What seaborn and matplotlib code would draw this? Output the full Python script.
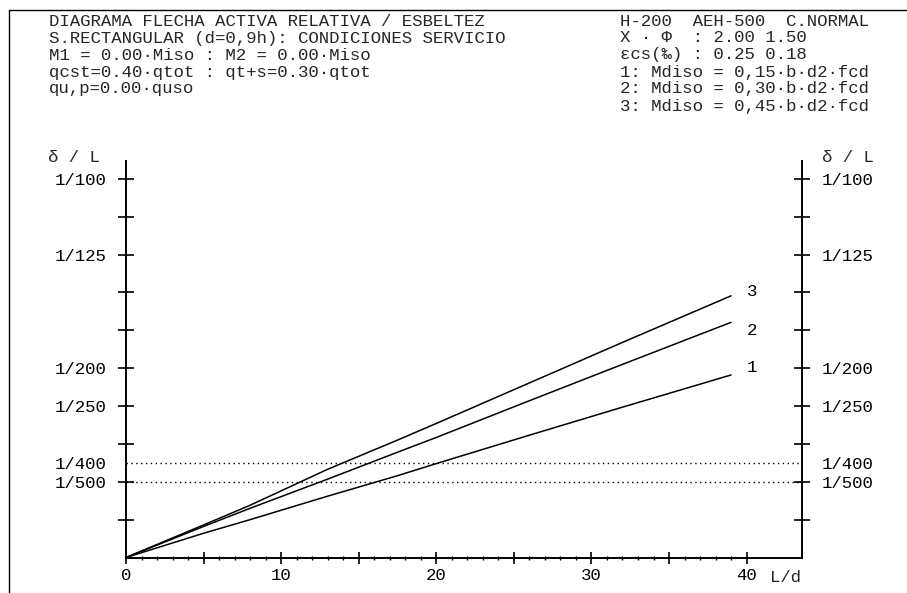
import matplotlib
matplotlib.use("Agg")
import matplotlib.pyplot as plt
import seaborn as sns
import pandas as pd
from matplotlib.lines import Line2D

# ---------------- data ----------------
slenderness = [0, 5, 8, 13, 17.5, 20, 26, 32, 39]          # L/d
curve_1 = [0, 0.64, 1.00, 1.62, 2.16, 2.48, 3.23, 3.97, 4.82]  # δ/L x 1000
curve_2 = [0, 0.82, 1.30, 2.07, 2.78, 3.17, 4.14, 5.10, 6.21]
curve_3 = [0, 0.86, 1.38, 2.33, 3.10, 3.54, 4.61, 5.68, 6.91]
curve_names = ["1", "2", "3"]
curve_label_offsets = [(21, 7), (21, -8), (21, 4)]  # pixels from line end

y_tick_denoms = [100, 125, 200, 250, 400, 500]
y_tick_labels = ["1/100", "1/125", "1/200", "1/250", "1/400", "1/500"]
limit_denoms = [400, 500]
x_tick_values = [0, 10, 20, 30, 40]
x_tick_labels = ["0", "10", "20", "30", "40"]

header_left = [
    "DIAGRAMA FLECHA ACTIVA RELATIVA / ESBELTEZ",
    "S.RECTANGULAR (d=0,9h): CONDICIONES SERVICIO",
    "M1 = 0.00·Miso : M2 = 0.00·Miso",
    "qcst=0.40·qtot : qt+s=0.30·qtot",
    "qu,p=0.00·quso",
]
header_right = [
    "H-200  AEH-500  C.NORMAL",
    "X · Φ  : 2.00 1.50",
    "εcs(‰) : 0.25 0.18",
    "1: Mdiso = 0,15·b·d2·fcd",
    "2: Mdiso = 0,30·b·d2·fcd",
    "3: Mdiso = 0,45·b·d2·fcd",
]

# ---------------- style ----------------
sns.set_theme(style="white")
MONO = ["Liberation Mono", "DejaVu Sans Mono", "DejaVu Sans"]
plt.rcParams["font.family"] = MONO
FS = 12.5

W, H = 907, 593
fig = plt.figure(figsize=(W / 100, H / 100), dpi=100)
fig.patch.set_facecolor("white")
ax = fig.add_axes([126 / W, (H - 557.5) / H, (802 - 126) / W, (557.5 - 161) / H])
ax.set_facecolor("white")

rows = []
for name, vals in zip(curve_names, [curve_1, curve_2, curve_3]):
    for x, y in zip(slenderness, vals):
        rows.append({"L/d": x, "dL": y, "curva": name})
df = pd.DataFrame(rows)

sns.lineplot(data=df, x="L/d", y="dL", hue="curva", palette=["black"] * 3,
             legend=False, ax=ax, linewidth=1.1, estimator=None)

for name, vals, off in zip(curve_names, [curve_1, curve_2, curve_3], curve_label_offsets):
    ax.annotate(name, xy=(slenderness[-1], vals[-1]), xytext=off,
                textcoords="offset pixels", ha="center", va="center",
                fontsize=FS, color="black")

for d in limit_denoms:
    ax.axhline(1000 / d, color="black", linewidth=1.0, linestyle=(0, (1, 2.5)))

ax.set_xlim(0, 43.57)
ax.set_ylim(0, 10.47)

# y ticks
label_at = {1000 / d: lab for d, lab in zip(y_tick_denoms, y_tick_labels)}
major_y = list(range(1, 11))
ax.set_yticks(major_y)
ax.set_yticklabels([label_at.get(float(v), "") for v in major_y])
minor_y = [1000 / d for d in y_tick_denoms if (1000 / d) not in major_y]
ax.set_yticks(minor_y, minor=True)
ax.set_yticklabels([label_at[v] for v in minor_y], minor=True)

# x ticks
major_x = list(range(0, 45, 5))
ax.set_xticks(major_x)
ax.set_xticklabels([x_tick_labels[x_tick_values.index(v)] if v in x_tick_values else "" for v in major_x])
ax.set_xticks([v for v in range(1, 41) if v % 5], minor=True)

ax.tick_params(axis="y", which="major", direction="inout", length=12, width=1.2,
               left=True, right=True, labelleft=True, labelright=True, pad=8,
               labelsize=FS, colors="black")
ax.tick_params(axis="y", which="minor", length=0, left=True, right=True,
               labelleft=True, labelright=True, pad=14, labelsize=FS, labelcolor="black")
ax.tick_params(axis="x", which="major", direction="inout", length=9, width=1.2,
               bottom=True, pad=3, labelsize=FS, colors="black")
ax.tick_params(axis="x", which="minor", direction="inout", length=3, width=1.0,
               bottom=True, color="black")

for s in ["left", "right", "bottom"]:
    ax.spines[s].set_visible(True)
    ax.spines[s].set_color("black")
    ax.spines[s].set_linewidth(1.4)
ax.spines["top"].set_visible(False)
ax.set_xlabel("")
ax.set_ylabel("")
ax.grid(False)

# axis titles
fig.text(100 / W, 1 - 158 / H, "δ / L", ha="right", va="center", fontsize=FS)
fig.text(822 / W, 1 - 158 / H, "δ / L", ha="left", va="center", fontsize=FS)
fig.text(770 / W, 1 - 577 / H, "L/d", ha="left", va="center", fontsize=FS)

# header
for i, line in enumerate(header_left):
    fig.text(49 / W, 1 - (21 + 17 * i) / H, line, ha="left", va="center", fontsize=FS)
for i, line in enumerate(header_right):
    fig.text(620 / W, 1 - (21 + 17 * i) / H, line, ha="left", va="center", fontsize=FS)

# page frame
fig.add_artist(Line2D([9 / W, 9 / W], [0, 1 - 10 / H], transform=fig.transFigure,
                      color="black", linewidth=1.0))
fig.add_artist(Line2D([9 / W, 1], [1 - 10 / H, 1 - 10 / H], transform=fig.transFigure,
                      color="black", linewidth=1.0))

fig.savefig("out.png", dpi=100, facecolor="white")
